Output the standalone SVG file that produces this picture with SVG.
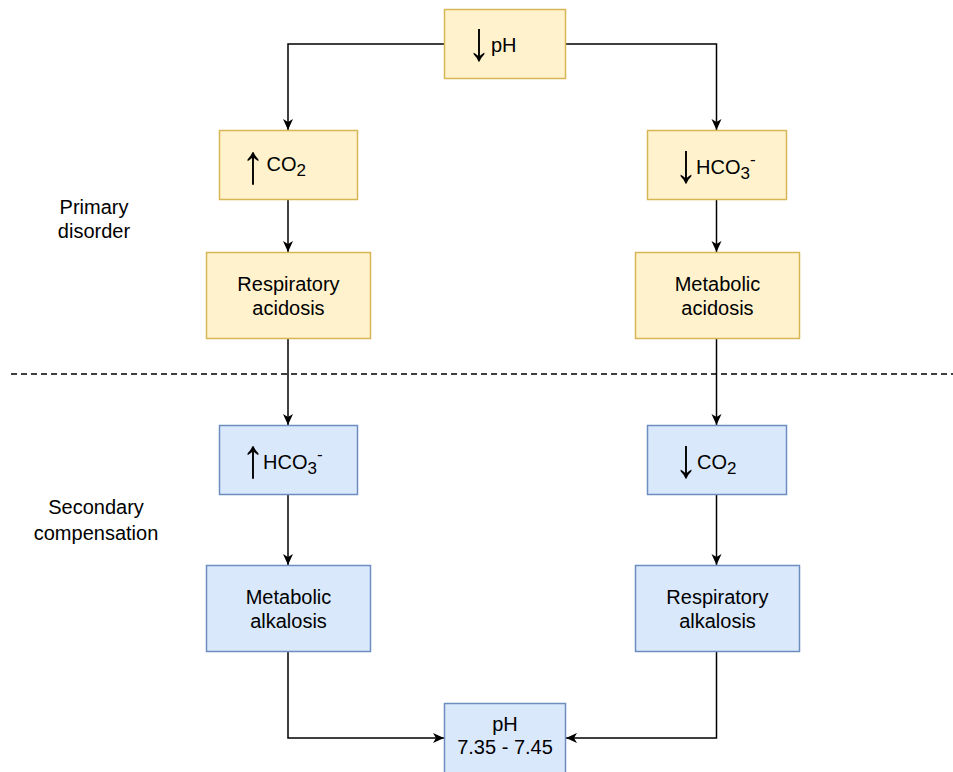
<svg xmlns="http://www.w3.org/2000/svg" width="953" height="772" viewBox="0 0 953 772">
  <defs>
    <marker id="arrow" markerUnits="userSpaceOnUse" markerWidth="12" markerHeight="12" refX="11" refY="5" orient="auto" viewBox="0 0 12 10">
      <path d="M0,0 L11,5 L0,10 L3,5 Z" fill="#000"/>
    </marker>
    <style>
      .yel { fill: #fff2cc; stroke: #d6b656; stroke-width: 1.5; }
      .blu { fill: #dae8fc; stroke: #6c8ebf; stroke-width: 1.5; }
      .t { font-family: "Liberation Sans", Arial, Helvetica, sans-serif; font-size: 20px; fill: #000; }
      .c { text-anchor: middle; }
      .arr { font-family: "Liberation Sans", Arial, sans-serif; font-size: 46px; fill: #000; }
      .edge { fill: none; stroke: #000; stroke-width: 1.5; marker-end: url(#arrow); }
      .sep { fill: none; stroke: #000; stroke-width: 1.5; stroke-dasharray: 6 4; }
    </style>
  </defs>

  <!-- section divider -->
  <line class="sep" x1="11" y1="374" x2="953" y2="374"/>

  <!-- side labels -->
  <text class="t c" x="94" y="214">Primary</text>
  <text class="t c" x="94" y="238">disorder</text>
  <text class="t c" x="96" y="514">Secondary</text>
  <text class="t c" x="96" y="540">compensation</text>

  <!-- connectors -->
  <g id="connectors">
    <path class="edge" d="M444,44 H288 V130"/>
    <path class="edge" d="M566,44 H716.5 V130"/>
    <path class="edge" d="M288,200 V252"/>
    <path class="edge" d="M716.5,200 V252"/>
    <path class="edge" d="M288,339 V425"/>
    <path class="edge" d="M716.5,339 V425"/>
    <path class="edge" d="M288,495 V565"/>
    <path class="edge" d="M716.5,495 V565"/>
    <path class="edge" d="M288,652 V738 H444"/>
    <path class="edge" d="M716.5,652 V738 H566"/>
  </g>

  <!-- nodes -->
  <g id="ph-low">
    <rect class="yel" x="444.5" y="9.5" width="121" height="69"/>
    <text class="arr" transform="translate(467.5,60) scale(1,1.2)">↓</text>
    <text class="t" x="491" y="52">pH</text>
  </g>

  <g id="co2-high">
    <rect class="yel" x="219.5" y="130.5" width="138" height="69"/>
    <text class="arr" transform="translate(241.5,183) scale(1,1.2)">↑</text>
    <text class="t" x="266.5" y="171">CO<tspan font-size="17" dy="5">2</tspan></text>
  </g>

  <g id="hco3-low">
    <rect class="yel" x="647.5" y="130.5" width="139" height="69"/>
    <text class="arr" transform="translate(674.5,182) scale(1,1.2)">↓</text>
    <text class="t" x="696" y="174">HCO<tspan font-size="17" dy="5">3</tspan><tspan font-size="17" dy="-14">-</tspan></text>
  </g>

  <g id="resp-acidosis">
    <rect class="yel" x="206.5" y="252.5" width="164" height="86"/>
    <text class="t c" x="288.5" y="291">Respiratory</text>
    <text class="t c" x="288.5" y="315">acidosis</text>
  </g>

  <g id="met-acidosis">
    <rect class="yel" x="635.5" y="252.5" width="164" height="86"/>
    <text class="t c" x="717.5" y="291">Metabolic</text>
    <text class="t c" x="717.5" y="315">acidosis</text>
  </g>

  <g id="hco3-high">
    <rect class="blu" x="219.5" y="425.5" width="138" height="69"/>
    <text class="arr" transform="translate(241.5,477) scale(1,1.2)">↑</text>
    <text class="t" x="263" y="469">HCO<tspan font-size="17" dy="5">3</tspan><tspan font-size="17" dy="-14">-</tspan></text>
  </g>

  <g id="co2-low">
    <rect class="blu" x="647.5" y="425.5" width="139" height="69"/>
    <text class="arr" transform="translate(674.5,477) scale(1,1.2)">↓</text>
    <text class="t" x="697" y="469">CO<tspan font-size="17" dy="5">2</tspan></text>
  </g>

  <g id="met-alkalosis">
    <rect class="blu" x="206.5" y="565.5" width="164" height="86"/>
    <text class="t c" x="288.5" y="604">Metabolic</text>
    <text class="t c" x="288.5" y="628">alkalosis</text>
  </g>

  <g id="resp-alkalosis">
    <rect class="blu" x="635.5" y="565.5" width="164" height="86"/>
    <text class="t c" x="717.5" y="604">Respiratory</text>
    <text class="t c" x="717.5" y="628">alkalosis</text>
  </g>

  <g id="ph-normal">
    <rect class="blu" x="444.5" y="703.5" width="121" height="70"/>
    <text class="t c" x="505" y="731">pH</text>
    <text class="t c" x="505" y="754">7.35 - 7.45</text>
  </g>
</svg>
